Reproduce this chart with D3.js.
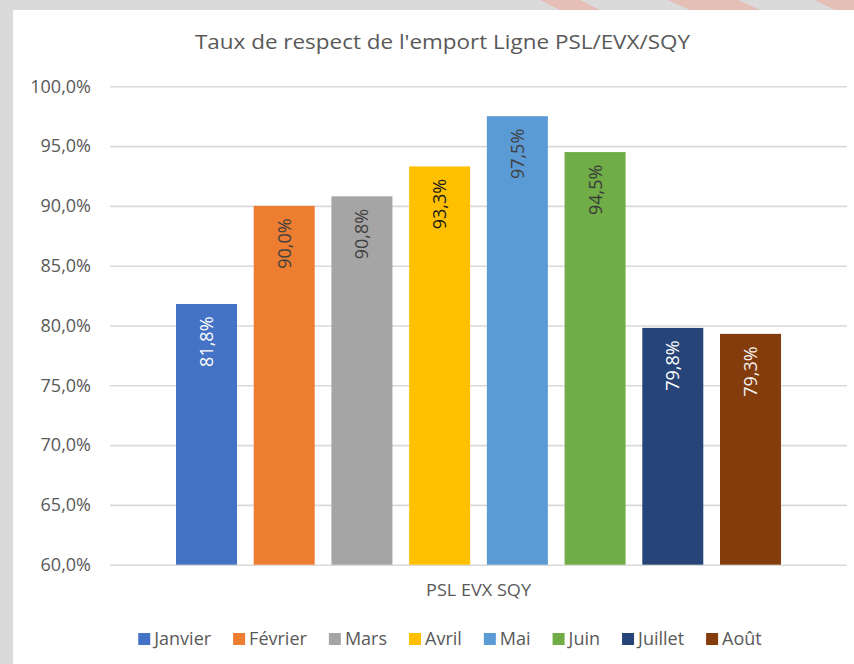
<!DOCTYPE html>
<html>
<head>
<meta charset="utf-8">
<script src="https://cdn.jsdelivr.net/npm/d3@7"></script>
<style>
  html, body { margin: 0; padding: 0; background: #d9d9d9; }
  svg { display: block; }
  text { font-family: "Open Sans", "Noto Sans", sans-serif; }
</style>
</head>
<body>
<svg id="chart" width="854" height="664"></svg>
<script>
// ---- Data ----
const title = "Taux de respect de l'emport Ligne PSL/EVX/SQY";
const categories = ["PSL EVX SQY"];
const months = ["Janvier", "Février", "Mars", "Avril", "Mai", "Juin", "Juillet", "Août"];
const values = [81.8, 90.0, 90.8, 93.3, 97.5, 94.5, 79.8, 79.3];
const colors = ["#4472C4", "#ED7D31", "#A5A5A5", "#FFC000", "#5B9BD5", "#70AD47", "#264478", "#843C0C"];
const labelColors = ["#ffffff", "#404040", "#404040", "#1a1a1a", "#404040", "#3a3a3a", "#ffffff", "#f2f2f2"];
const yTicks = [60, 65, 70, 75, 80, 85, 90, 95, 100];

const fmt = v => v.toFixed(1).replace(".", ",") + "%";

// ---- Layout ----
const W = 854, H = 664;
const svg = d3.select("#chart");

// background: gray frame with white chart area
svg.append("rect").attr("x", 0).attr("y", 0).attr("width", W).attr("height", H).attr("fill", "#dadada");
// faint pinkish artefacts in the top strip
const deco = svg.append("g");
[[540, 580, 560, 600], [668, 738, 690, 760], [815, 854, 835, 874]].forEach(([a, b, c, d]) => {
  deco.append("polygon")
    .attr("points", `${a},0 ${b},0 ${d},10 ${c},10`)
    .attr("fill", "#e7b7ab").attr("opacity", 0.8);
});
svg.append("rect").attr("x", 13).attr("y", 10).attr("width", W - 13).attr("height", H - 10).attr("fill", "#ffffff");

const plot = { left: 110, right: 847, top: 86.3, bottom: 564.7 };

const y = d3.scaleLinear().domain([60, 100]).range([plot.bottom, plot.top]);
const xCat = d3.scaleBand().domain(categories).range([plot.left, plot.right]).paddingOuter(0.0927).paddingInner(0);
const xMonth = d3.scaleBand().domain(months).range([0, xCat.bandwidth()]).paddingInner(0.215).paddingOuter(0.1075);

// ---- Title ----
svg.append("text")
  .attr("x", 442.5).attr("y", 49)
  .attr("text-anchor", "middle")
  .attr("font-size", 20)
  .attr("fill", "#595959")
  .attr("textLength", 495).attr("lengthAdjust", "spacingAndGlyphs")
  .text(title);

// ---- Y axis with gridlines ----
const yAxis = d3.axisLeft(y)
  .tickValues(yTicks)
  .tickSize(-(plot.right - plot.left))
  .tickPadding(19)
  .tickFormat(d => fmt(d));

const gy = svg.append("g").attr("transform", `translate(${plot.left},0)`).call(yAxis);
gy.select(".domain").remove();
gy.selectAll(".tick line").attr("stroke", "#d9d9d9").attr("stroke-width", 1.6);
gy.selectAll(".tick text")
  .attr("fill", "#595959")
  .attr("font-size", 18)
  .attr("font-family", "'Open Sans', sans-serif");

// ---- Bars ----
const groups = svg.append("g").selectAll("g.cat").data(categories).join("g")
  .attr("transform", d => `translate(${xCat(d)},0)`);

const barData = months.map((m, i) => ({ month: m, value: values[i], color: colors[i], lc: labelColors[i] }));

groups.selectAll("rect.bar").data(barData).join("rect")
  .attr("class", "bar")
  .attr("x", d => xMonth(d.month))
  .attr("width", xMonth.bandwidth())
  .attr("y", d => y(d.value))
  .attr("height", d => y(60) - y(d.value))
  .attr("fill", d => d.color);

// data labels (rotated, inside end)
groups.selectAll("text.lbl").data(barData).join("text")
  .attr("class", "lbl")
  .attr("transform", d => `translate(${xMonth(d.month) + xMonth.bandwidth() / 2},${y(d.value) + 12.5}) rotate(-90)`)
  .attr("text-anchor", "end")
  .attr("dy", "0.36em")
  .attr("font-size", 18)
  .attr("fill", d => d.lc)
  .text(d => fmt(d.value));

// ---- Category axis label ----
svg.append("text")
  .attr("x", xCat(categories[0]) + xCat.bandwidth() / 2)
  .attr("y", 596)
  .attr("text-anchor", "middle")
  .attr("font-size", 16)
  .attr("fill", "#595959")
  .attr("textLength", 105).attr("lengthAdjust", "spacingAndGlyphs")
  .text(categories[0]);

// ---- Legend ----
const legend = svg.append("g");
const items = legend.selectAll("g").data(barData).join("g");
items.append("rect").attr("width", 12).attr("height", 12).attr("y", -12).attr("fill", d => d.color);
items.append("text").attr("x", 16).attr("y", 0).attr("font-size", 18).attr("fill", "#595959").text(d => d.month);
let cx = 0;
const gap = 22;
items.each(function () {
  const w = 16 + this.querySelector("text").getComputedTextLength();
  d3.select(this).attr("data-x", cx);
  cx += w + gap;
});
const totalW = cx - gap;
const startX = 450 - totalW / 2;
items.attr("transform", function () { return `translate(${startX + (+this.getAttribute("data-x"))},645)`; });
</script>
</body>
</html>
